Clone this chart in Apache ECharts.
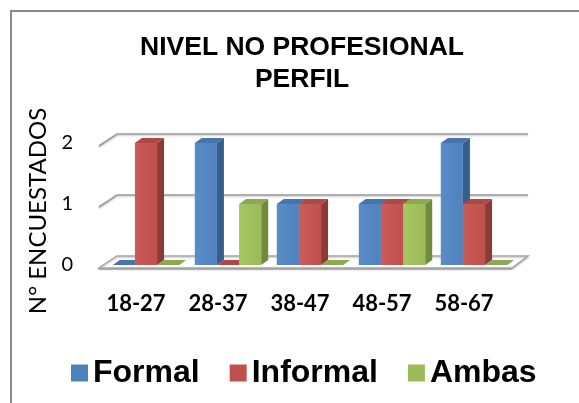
<!DOCTYPE html>
<html><head><meta charset="utf-8">
<script src="https://cdn.jsdelivr.net/npm/echarts@6/dist/echarts.min.js"></script>
<style>html,body{margin:0;padding:0;background:#fff}#c{width:579px;height:403px}</style>
</head><body><div id="c"></div>
<script>
const categories = ['18-27', '28-37', '38-47', '48-57', '58-67'];
const formal = [0, 2, 1, 1, 2];
const informal = [2, 0, 1, 1, 1];
const ambas = [0, 1, 0, 1, 0];
const seriesNames = ['Formal', 'Informal', 'Ambas'];
const yTicks = [0, 1, 2];

const palettes = [
  { front: '#4F81BD', light: '#5A8CC8', side: '#385E8C', top: '#4674AC' },
  { front: '#C0504D', light: '#CB5B58', side: '#8C3A38', top: '#AE4845' },
  { front: '#9BBB59', light: '#A6C664', side: '#708A3E', top: '#8BA94F' }
];

function makeBar(idx) {
  const pal = palettes[idx];
  return function (params, api) {
    const c = api.value(0), v = api.value(1);
    const b = api.coord([c, 0]), t = api.coord([c, v]);
    const band = api.size([1, 0])[0];
    const w = band * 0.27;
    const x0 = b[0] - 1.5 * w + idx * w;
    const x1 = x0 + w;
    const dx = 7, dy = 5;
    const yb = b[1], yt = t[1];
    const grad = new echarts.graphic.LinearGradient(0, 0, 1, 0, [
      { offset: 0, color: pal.light }, { offset: 1, color: pal.front }
    ]);
    return {
      type: 'group',
      children: [
        { type: 'polygon', shape: { points: [[x1, yt], [x1 + dx, yt - dy], [x1 + dx, yb - dy], [x1, yb]] }, style: { fill: pal.side } },
        { type: 'rect', shape: { x: x0, y: yt, width: w, height: yb - yt }, style: { fill: grad } },
        { type: 'polygon', shape: { points: [[x0, yt], [x1, yt], [x1 + dx, yt - dy], [x0 + dx, yt - dy]] }, style: { fill: pal.top } }
      ]
    };
  };
}

function renderWall(params, api) {
  const v = api.value(1);
  const cs = params.coordSys;
  const y = api.coord([0, v])[1];
  const L = cs.x, R = cs.x + cs.width;
  const fl = [L - 6, y + 3], bl = [L + 12, y - 9], br = [R + 13, y - 9], fr = [R - 3, y + 3];
  const lineStyle = { stroke: '#9c9c9c', lineWidth: 1.6, fill: null, shadowBlur: 2, shadowColor: 'rgba(0,0,0,0.25)', shadowOffsetY: 1 };
  if (v === 0) {
    return {
      type: 'group',
      children: [
        { type: 'polygon', shape: { points: [fl, fr, [fr[0], fr[1] + 2], [fl[0], fl[1] + 2]] }, style: { fill: '#d9d9d9' } },
        { type: 'polygon', shape: { points: [fl, fr, br, bl] }, style: { fill: '#ffffff', stroke: '#a6a6a6', lineWidth: 1.4, shadowBlur: 2, shadowColor: 'rgba(0,0,0,0.25)', shadowOffsetY: 1 } }
      ]
    };
  }
  return { type: 'polyline', shape: { points: [fl, bl, br] }, style: lineStyle };
}

const seriesData = [formal, informal, ambas];
const series = [{
  type: 'custom',
  name: '_wall',
  renderItem: renderWall,
  data: yTicks.map(t => [0, t]),
  encode: { x: 0, y: 1 },
  silent: true,
  z: 1
}];
seriesData.forEach((arr, i) => {
  series.push({
    type: 'custom',
    name: seriesNames[i],
    renderItem: makeBar(i),
    data: arr.map((v, k) => [k, v]),
    encode: { x: 0, y: 1 },
    itemStyle: { color: palettes[i].front },
    z: 2
  });
});

const chart = echarts.init(document.getElementById('c'));
chart.setOption({
  animation: false,
  color: palettes.map(p => p.front),
  title: {
    text: 'NIVEL NO PROFESIONAL\nPERFIL',
    left: 302, top: 32, textAlign: 'center', padding: 0,
    textStyle: { fontFamily: 'Liberation Sans', fontWeight: 'bold', fontSize: 26.5, lineHeight: 32, color: '#000' }
  },
  graphic: [{
    type: 'rect', silent: true, z: -10,
    shape: { x: 11, y: 11, width: 640, height: 460 },
    style: { fill: 'none', stroke: '#8a8a8a', lineWidth: 2 }
  }],
  legend: {
    data: seriesNames,
    icon: 'rect', itemWidth: 17, itemHeight: 17, itemGap: 30,
    left: 66, top: 352,
    textStyle: { fontFamily: 'Liberation Sans', fontWeight: 'bold', fontSize: 32, color: '#000' }
  },
  grid: { left: 105, right: 64, top: 143, bottom: 138, containLabel: false },
  xAxis: {
    type: 'category', data: categories,
    axisLine: { show: false }, axisTick: { show: false },
    axisLabel: { margin: 28, padding: [0, 20, 0, 0], fontFamily: 'Lato', fontWeight: 'bold', fontSize: 22, color: '#000' }
  },
  yAxis: {
    type: 'value', min: 0, max: 2, interval: 1,
    name: 'N° ENCUESTADOS', nameLocation: 'middle', nameGap: 43, nameRotate: 90,
    nameTextStyle: { fontFamily: 'Lato', fontSize: 24, color: '#000', padding: [0, 14, 0, 0] },
    axisLine: { show: false }, axisTick: { show: false }, splitLine: { show: false },
    axisLabel: { margin: 32, padding: [14, 0, 0, 0], fontFamily: 'Lato', fontSize: 20, color: '#000' }
  },
  series: series
});
</script></body></html>
